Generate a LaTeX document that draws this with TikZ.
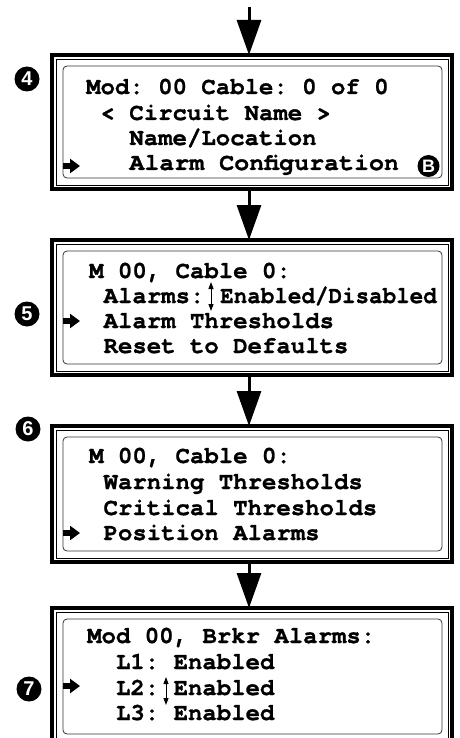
\documentclass[tikz,border=0pt]{standalone}
\usepackage{fontspec}
\setmonofont{texgyrecursor}[Extension=.otf, UprightFont=*-regular, BoldFont=*-bold, BoldFeatures={FakeBold=1}]
\setsansfont{Liberation Sans}
\usetikzlibrary{arrows.meta}
\tikzset{
  screen/.style={draw, line width=3.5pt, minimum width=400pt, inner sep=0pt, outer sep=0pt},
  inframe/.style={draw, line width=0.9pt},
  lcd/.style={draw=black!80, line width=0.8pt, rounded corners=4pt},
  lcdtext/.style={anchor=base west, inner sep=0pt, font=\ttfamily\bfseries\fontsize{24}{26}\selectfont},
  stepnum/.style={circle, fill=black, text=white, inner sep=0pt, minimum size=25pt, font=\sffamily\bfseries\fontsize{20}{20}\selectfont},
  flow/.style={line width=3pt, -{Triangle[length=35pt,width=24pt]}},
  pointer/.style={line width=5.5pt, -{Triangle[length=10pt,width=14pt]}},
  updown/.style={line width=1pt, {Triangle[length=7pt,width=5pt]}-{Triangle[length=7pt,width=5pt]}}
}

\begin{document}
\begin{tikzpicture}[x=1pt, y=-1pt]
\useasboundingbox (0,0) rectangle (459,738);
\clip (0,0) rectangle (459,738);
% Screens
    \node[screen, minimum height=134pt] (s4) at (252,122) {};
    \node[screen, minimum height=135pt] (s5) at (252,307.5) {};
    \node[screen, minimum height=136pt] (s6) at (252,494) {};
    \node[screen, minimum height=137pt] (s7) at (252,676.5) {};
% Inner frames and displays
    \draw[inframe] ([shift={(4,4)}]s4.north west) rectangle ([shift={(-4,-4)}]s4.south east);
    \draw[inframe] ([shift={(4,4)}]s5.north west) rectangle ([shift={(-4,-4)}]s5.south east);
    \draw[inframe] ([shift={(4,4)}]s6.north west) rectangle ([shift={(-4,-4)}]s6.south east);
    \draw[inframe] ([shift={(4,4)}]s7.north west) rectangle ([shift={(-4,-4)}]s7.south east);
    \draw[lcd] ([shift={(11,11)}]s4.north west) rectangle ([shift={(-10,-11)}]s4.south east);
    \draw[lcd] ([shift={(11,11)}]s5.north west) rectangle ([shift={(-10,-11)}]s5.south east);
    \draw[lcd] ([shift={(11,11)}]s6.north west) rectangle ([shift={(-10,-11)}]s6.south east);
    \draw[lcd] ([shift={(11,11)}]s7.north west) rectangle ([shift={(-10,-11)}]s7.south east);
% Flow arrows
    \coordinate (entry) at (249,7);
    \draw[flow] (entry) -- ([xshift=-3pt]s4.north);
    \draw[flow] ([xshift=-3pt]s4.south) -- ([xshift=-3pt]s5.north);
    \draw[flow] ([xshift=-3pt]s5.south) -- ([xshift=-3pt]s6.north);
    \draw[flow] ([xshift=-3pt]s6.south) -- ([xshift=-3pt]s7.north);
% Step numbers
    \node[stepnum] (n4) at (27,79) {4};
    \node[stepnum] (n5) at (27,314) {5};
    \node[stepnum] (n6) at (28,429) {6};
    \node[stepnum] (n7) at (29,689) {7};
% Screen 4
    \node[lcdtext] (t4a) at (86,94) {Mod: 00 Cable: 0 of 0};
    \node[lcdtext] (t4b) at (100.4,120) {< Circuit Name >};
    \node[lcdtext] (t4c) at (129.2,145) {Name/Location};
    \node[lcdtext] (t4d) at (129.2,170) {\scalebox{1.04}[1]{Alarm Configuration}};
    \node[stepnum, minimum size=22pt, font=\sffamily\bfseries\fontsize{18}{18}\selectfont] (b4) at (428.5,166) {B};
    \draw[pointer] (63,166) -- (80,166);
% Screen 5
    \node[lcdtext] (t5a) at (89,278) {M 00, Cable 0:};
    \node[lcdtext] (t5b) at (103.4,303) {Alarms:};
    \node[lcdtext] (t5c) at (220,303) {\scalebox{0.94}[1]{Enabled/Disabled}};
    \node[lcdtext] (t5d) at (103.4,328) {Alarm Thresholds};
    \node[lcdtext] (t5e) at (103.4,353) {Reset to Defaults};
    \draw[updown] (211,282) -- (211,311);
    \draw[pointer] (63,321) -- (80,321);
% Screen 6
    \node[lcdtext] (t6a) at (89,463) {M 00, Cable 0:};
    \node[lcdtext] (t6b) at (103.4,489) {Warning Thresholds};
    \node[lcdtext] (t6c) at (103.4,515) {Critical Thresholds};
    \node[lcdtext] (t6d) at (103.4,540) {Position Alarms};
    \draw[pointer] (63,533) -- (80,533);
% Screen 7
    \node[lcdtext] (t7a) at (87,643) {Mod 00, Brkr Alarms:};
    \node[lcdtext] (t7b) at (115.8,669) {L1: Enabled};
    \node[lcdtext] (t7c) at (115.8,695) {L2:};
    \node[lcdtext] (t7d) at (173.4,695) {Enabled};
    \node[lcdtext] (t7e) at (115.8,720) {L3: Enabled};
    \draw[updown] (166,677) -- (166,705);
    \draw[pointer] (63,686) -- (80,686);
\end{tikzpicture}
\end{document}
